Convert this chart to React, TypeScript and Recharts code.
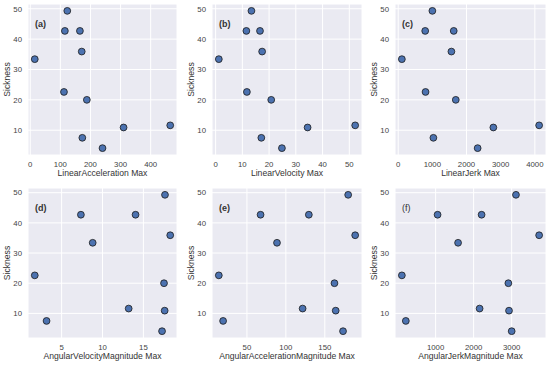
import React from 'react';
import { ScatterChart, Scatter, XAxis, YAxis, CartesianGrid } from 'recharts';

// sickness score per participant (same order in every feature array)
const sickness = [49.3, 42.7, 42.7, 35.9, 33.4, 22.6, 20.0, 11.6, 10.9, 7.5, 4.1];

const linearAccMax = [123, 115, 165, 171, 15, 112, 188, 465, 310, 173, 240];
const linearVelMax = [13.4, 11.5, 16.6, 17.4, 1.2, 11.7, 20.8, 52.2, 34.4, 17.1, 24.8];
const linearJerkMax = [1000, 790, 1625, 1557, 107, 800, 1685, 4125, 2785, 1030, 2325];
const angVelMax = [17.64, 7.36, 14.04, 18.28, 8.8, 1.72, 17.52, 13.2, 17.6, 3.16, 17.28];
const angAccMax = [180, 67.5, 129.5, 189, 88.6, 13.9, 162.4, 121.5, 164, 19.4, 173.4];
const angJerkMax = [3113, 1052, 2209, 3722, 1591, 113, 2913, 2157, 2930, 217, 3000];

const yTicks = [10, 20, 30, 40, 50];

const FONT = '"Liberation Sans", Arial, sans-serif';

// matplotlib style 5% margins
const pad = (v: number[]): [number, number] => {
  const lo = Math.min(...v);
  const hi = Math.max(...v);
  const m = (hi - lo) * 0.05;
  return [lo - m, hi + m];
};

interface PanelProps {
  tag: string;
  bold?: boolean;
  xLabel: string;
  xs: number[];
  xTicks: number[];
  left: number;
  top: number;
  w: number;
  h: number;
}

const Panel: React.FC<PanelProps> = ({ tag, bold = true, xLabel, xs, xTicks, left, top, w, h }) => {
  const data = xs.map((x, i) => ({ x, y: sickness[i] }));
  const xLab = (props: any) => {
    const vb = props.viewBox;
    return (
      <text x={vb.x + vb.width / 2} y={vb.y + 18} textAnchor="middle" dominantBaseline="central"
        fontSize={8.6} fill="#333" fontFamily={FONT}>{xLabel}</text>
    );
  };
  const yLab = (props: any) => {
    const vb = props.viewBox;
    const cx = vb.x + vb.width - 21;
    const cy = vb.y + vb.height / 2;
    return (
      <text x={cx} y={cy} textAnchor="middle" dominantBaseline="central" transform={`rotate(-90, ${cx}, ${cy})`}
        fontSize={8.6} fill="#333" fontFamily={FONT}>Sickness</text>
    );
  };
  return (
    <div style={{ position: 'absolute', left: left - 28, top: top - 4 }}>
      <ScatterChart width={w + 32} height={h + 36} margin={{ top: 4, right: 4, left: 0, bottom: 0 }}
        style={{ fontFamily: FONT }}>
        <CartesianGrid fill="#EAEAF2" stroke="#ffffff" strokeWidth={1} />
        <XAxis type="number" dataKey="x" domain={pad(xs)} ticks={xTicks} allowDataOverflow
          axisLine={false} tickLine={false} tickSize={0} tickMargin={6} height={32}
          tick={{ fontSize: 7.8, fill: '#444' }} label={xLab} />
        <YAxis type="number" dataKey="y" domain={pad(sickness)} ticks={yTicks} allowDataOverflow
          axisLine={false} tickLine={false} tickSize={0} tickMargin={6} width={28}
          tick={{ fontSize: 7.8, fill: '#444' }} label={yLab} />
        <Scatter data={data} isAnimationActive={false}
          shape={(p: any) => <circle cx={p.cx} cy={p.cy} r={3.4} fill="#4C72B0" stroke="#1a1a1a" strokeWidth={0.8} />} />
      </ScatterChart>
      <div style={{ position: 'absolute', left: 35, top: 18, fontSize: 9, lineHeight: '12px',
        fontWeight: bold ? 'bold' : 'normal', color: '#333', fontFamily: FONT }}>{tag}</div>
    </div>
  );
};

const App: React.FC = () => {
  const cols = [28, 212, 395];
  const rows = [4, 188];
  return (
    <div style={{ position: 'absolute', left: 0, top: 0, width: 550, height: 365, background: '#fff' }}>
      <Panel tag="(a)" xLabel="LinearAcceleration Max" xs={linearAccMax} xTicks={[0, 100, 200, 300, 400]}
        left={cols[0]} top={rows[0]} w={149} h={151} />
      <Panel tag="(b)" xLabel="LinearVelocity Max" xs={linearVelMax} xTicks={[0, 10, 20, 30, 40, 50]}
        left={cols[1]} top={rows[0]} w={150} h={151} />
      <Panel tag="(c)" xLabel="LinearJerk Max" xs={linearJerkMax} xTicks={[0, 1000, 2000, 3000, 4000]}
        left={cols[2]} top={rows[0]} w={151} h={151} />
      <Panel tag="(d)" xLabel="AngularVelocityMagnitude Max" xs={angVelMax} xTicks={[5, 10, 15]}
        left={cols[0]} top={rows[1]} w={149} h={150} />
      <Panel tag="(e)" xLabel="AngularAccelerationMagnitude Max" xs={angAccMax} xTicks={[50, 100, 150]}
        left={cols[1]} top={rows[1]} w={150} h={150} />
      <Panel tag="(f)" bold={false} xLabel="AngularJerkMagnitude Max" xs={angJerkMax} xTicks={[1000, 2000, 3000]}
        left={cols[2]} top={rows[1]} w={151} h={150} />
    </div>
  );
};

export default App;
